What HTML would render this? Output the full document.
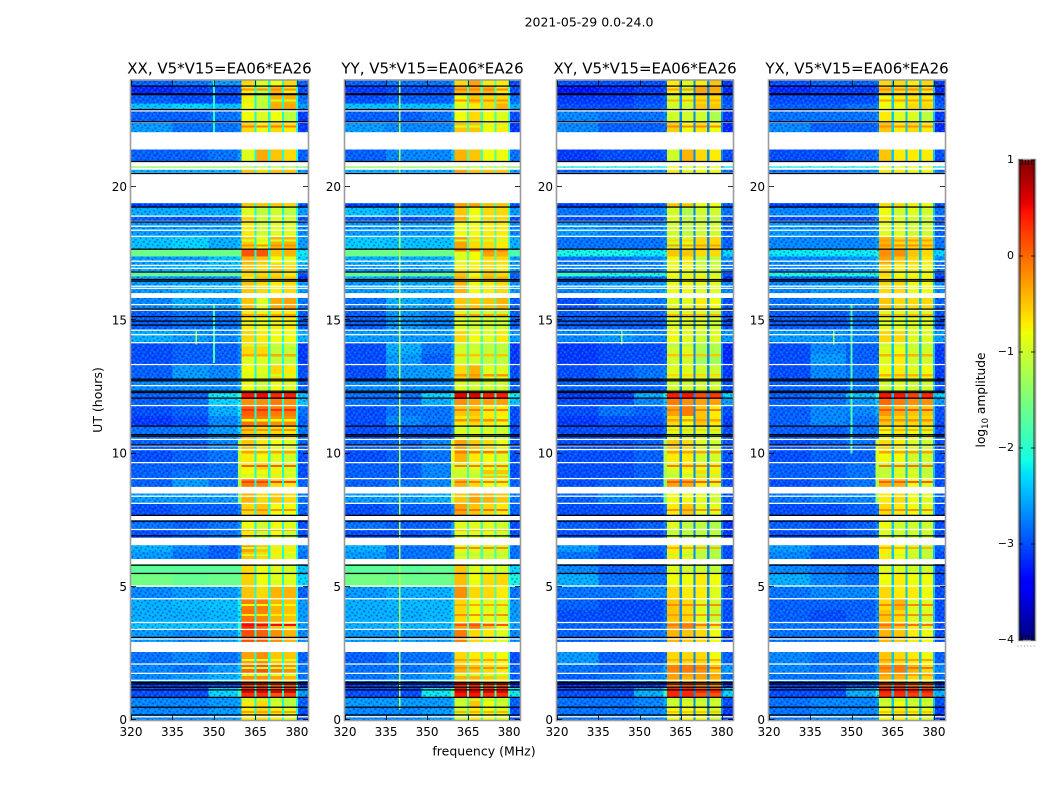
<!DOCTYPE html>
<html lang="en">
<head>
<meta charset="utf-8">
<title>2021-05-29 amplitude waterfall</title>
<style>
html,body{margin:0;padding:0;background:#fff;}
svg{display:block;font-family:"DejaVu Sans","Liberation Sans",sans-serif;fill:#000;}
</style>
</head>
<body>
<svg id="figure" xmlns="http://www.w3.org/2000/svg" width="1050" height="800" viewBox="0 0 1050 800">
<defs>
<pattern id="speckle" patternUnits="userSpaceOnUse" width="30" height="30" patternTransform="scale(.72)">
<path fill="none" stroke="#0000d0" stroke-opacity=".5" stroke-width="2" d="M1 1h2M7 3h3M14 1h2M22 2h2M27 5h2M4 6h3M11 7h2M18 6h3M24 9h3M1 10h2M8 11h3M15 11h2M21 13h2M5 15h2M12 15h3M27 15h2M1 17h3M18 18h3M24 19h2M8 20h2M14 21h2M3 23h2M20 24h3M27 24h2M10 25h3M16 27h2M5 28h2M24 28h3"/>
<path fill="none" stroke="#20c8ff" stroke-opacity=".38" stroke-width="2" d="M4 2h2M11 3h2M18 1h3M25 2h2M0 6h2M8 7h2M15 5h2M22 6h2M3 9h3M12 10h2M19 9h2M28 10h2M6 12h2M17 14h3M24 14h2M1 14h2M9 16h2M14 18h2M21 17h2M28 19h2M4 20h3M11 22h2M18 22h2M25 23h2M1 26h2M7 25h2M14 25h2M21 27h2M28 27h2M10 28h2"/>
</pattern>
</defs>
<text x="589" y="26.5" font-size="12.5" text-anchor="middle">2021-05-29 0.0-24.0</text>
<text x="484" y="755.5" font-size="12.5" text-anchor="middle">frequency (MHz)</text>
<text transform="translate(102 400) rotate(-90)" font-size="12.5" text-anchor="middle">UT (hours)</text>
<text transform="translate(985 400) rotate(-90)" font-size="12.2" text-anchor="middle">log<tspan font-size="8.5" dy="3">10</tspan><tspan dy="-3"> amplitude</tspan></text>
<g id="panels"></g>
<g id="colorbar"></g>
</svg>
<script>
// Channel bands in MHz: [from, to]; each value column in the amplitude tables maps to one band.
const freqBands = [[320,335],[335,348],[348,358.7],[358.7,360],[360,364.6],[365.4,369.6],[370.4,374.6],[375.4,379.6],[380.4,384]];
const notchBands = [[364.6,365.4],[369.6,370.4],[374.6,375.4],[379.6,380.4]];
// Top edge (UT hours) of each time block; the last block ends at 0.
const rowTopHours = [24,23.78,23.48,23.14,22.91,22.46,21.41,20.96,20.73,19.39,19.24,18.9,18.68,18.15,17.66,17.4,17.14,16.8,16.65,16.43,15.83,15.38,14.63,14.18,13.73,13.31,12.75,12.3,12.04,11.81,11.4,11.03,10.5,10.13,9.68,9.38,9.08,8.51,8.1,7.5,7.16,6.56,6.3,5.85,5.48,4.99,4.54,4.13,3.68,3.38,2.55,2.06,1.73,1.43,1.2,.86,.45];
// Time ranges with no data (white), single flagged integrations (white / black).
const gapHours = [[22.06,21.41],[20.94,20.78],[20.73,20.65],[20.54,19.4],[16.02,15.84],[8.75,8.5],[7.69,7.5],[6.84,6.56],[6.04,5.85],[2.93,2.55]];
const whiteLineHours = [22.86,22.43,18.91,18.71,18.53,18.38,18.15,17.22,17.06,16.95,16.8,16.28,16.2,15.59,15.38,14.63,14.46,14.16,13.34,12.55,11.8,10.53,10.29,10.15,9.66,9.06,8.4,8.13,7.15,5.03,4.55,3.66,3.4,3.04,2.1,1.75,1.49,.12];
const blackLineHours = [23.79,23.5,23.47,22.91,22.45,20.96,20.51,19.25,18.69,17.67,16.81,16.53,16.47,15.42,15.14,14.97,14.82,12.79,12.73,12.34,12.29,12.08,11.03,10.71,10.65,10.32,7.68,7.46,6.91,5.81,5.5,3.1,1.41,1.35,1.23,1.13,.85,.48,.19];

const ampXX = [
[-2.9,-2.8,-2.6,-2.6,-.6,-.9,-.8,-.6,-2.9],[-3.2,-3.1,-3,-2.9,-.7,-1.1,-.4,-.7,-3],[-2.9,-3,-3,-2.9,-.7,-1.1,-.4,-.4,-2.8],[-2.4,-2.3,-2.4,-2.4,-.8,-1.1,-.35,-.35,-2.6],[-2.9,-2.9,-2.8,-2.7,-.8,-.9,-.8,-1.1,-3.1],[-2.6,-2.8,-2.8,-2.7,-.6,-.8,-.6,-.7,-3.1],[-2.9,-2.9,-2.8,-2.6,-.9,-.35,-.5,-.6,-2.9],
[-1.2,-1.2,-1.2,-1.2,-1.2,-1.2,-1.2,-1.2,-1.2],[-2.5,-2.5,-2.5,-2.4,-.5,-.6,-.5,-.5,-2.6],
[-3.1,-3.1,-3,-2.9,-.5,-.5,-.5,-.6,-3],[-2.5,-2.5,-2.5,-2.4,-.9,-1.1,-1,-1.1,-2.6],[-2.9,-3,-2.9,-2.7,-.6,-1,-.9,-1,-3],[-2.6,-2.6,-2.6,-2.5,-.7,-1,-.9,-.9,-2.7],[-2.4,-2.3,-2.5,-2.4,-.55,-.8,-.4,-.4,-2.6],
[-1.6,-1.6,-1.6,-1.6,.1,.1,-.5,-.4,-2.2],[-2.6,-2.6,-2.4,-2.3,-.4,-.5,-.8,-.9,-2.3],[-2.5,-2.4,-2.4,-2.3,-.5,-.6,-.5,-.6,-2.6],[-1.7,-1.7,-1.7,-1.7,-.6,-.6,-.6,-.7,-3],[-2.6,-2.7,-2.7,-2.6,-.7,-.5,-.5,-.5,-3.2],[-2.6,-2.5,-2.5,-2.4,-.5,-.6,-.7,-.6,-2.6],
[-2.7,-2.5,-2.6,-2.3,-.5,-.9,-.35,-.3,-2.8],[-2.9,-2.8,-2.8,-2.7,-.7,-.8,-.7,-.7,-2.9],[-2.5,-2.6,-2.7,-2.4,-.6,-.7,-.8,-.8,-2.5],[-3,-2.9,-2.9,-2.7,-.6,-.6,-1.1,-1.1,-3.1],[-3,-2.9,-2.9,-2.7,-.9,-.9,-1.1,-1.1,-3.1],[-2.9,-2.6,-2.7,-2.5,-.8,-.9,-.6,-.7,-3],
[-2.7,-2.7,-2.7,-2.5,-.8,-1,-.8,-.9,-2.9],[-2.9,-2.9,-2.2,-1.9,.45,.5,.35,.4,-2.4],[-2.9,-2.8,-2.3,-2.1,-.2,-.2,-.1,-.2,-2.4],[-3,-2.9,-2.5,-2.2,.05,0,-.1,-.1,-2.8],[-3.1,-3,-2.7,-2.4,-.05,-.1,-.2,-.2,-2.9],[-2.8,-2.8,-2.6,-2.3,-.5,-.6,-.6,-.7,-2.8],
[-2.9,-2.9,-2.7,-1.2,-.5,-.7,-.8,-.9,-2.9],[-3,-2.9,-2.8,-1.1,-.7,-.8,-.9,-1,-3],[-2.9,-2.9,-2.8,-1.1,-.75,-.6,-.9,-1,-3],[-2.9,-2.8,-2.8,-1.1,-.8,-.8,-.7,-.9,-3],[-2.9,-2.6,-2.8,-1.2,-.1,-.15,-.6,-.7,-2.9],[-2.6,-2.6,-2.6,-1.4,-.4,-.6,-.5,-.6,-2.8],[-3,-2.9,-2.9,-2.7,-.6,-.5,-.8,-.8,-2.9],
[-2.8,-2.9,-2.8,-2.6,-.8,-1,-.8,-.9,-3],[-3,-2.9,-2.8,-2.6,-.7,-1,-.8,-1,-3],[-2.5,-2.7,-2.9,-2.7,-.3,-.5,-.7,-.7,-2.7],[-2.6,-2.8,-2.9,-2.6,-.5,-.6,-.7,-.9,-2.8],[-1.7,-1.7,-1.7,-1.7,-.6,-.8,-.9,-1,-2.4],[-1.55,-1.65,-1.6,-1.6,-.55,-.8,-.9,-.9,-2.3],
[-2.7,-2.6,-2.6,-2.4,-.5,-.6,-.4,-.4,-2.9],[-2.5,-2.45,-2.4,-2.1,-.1,-.1,-.4,-.5,-2.6],[-2.5,-2.5,-2.45,-2.2,-.05,-.15,-.4,-.5,-2.6],[-2.4,-2.4,-2.4,-2,.35,0,-.5,-.6,-2.6],[-2.6,-2.7,-2.6,-2.2,.15,.05,-.2,-.4,-2.7],[-2.8,-2.7,-2.8,-2.6,-.3,-.2,-.5,-.5,-2.9],
[-2.7,-2.8,-2.6,-2.4,0,.1,-.1,-.2,-2.8],[-2.7,-2.6,-2.5,-2.3,-.2,-.2,-.3,-.4,-2.8],[-3.1,-3.1,-3,-2.9,.2,.2,.1,.1,-3.1],[-3,-3,-2.3,-1.9,.3,.3,.1,.2,-2.6],[-2.7,-2.7,-2.6,-2.5,-.7,-.6,-1,-1.1,-2.9],[-2.7,-2.7,-2.6,-2.5,-.7,-.6,-.7,-.9,-3]
];
const ampYY = [
[-2.9,-2.8,-2.8,-2.6,-.6,-.3,-.7,-.7,-3],[-3.1,-3,-3,-2.9,-.4,-.4,-.4,-.7,-3],[-3,-2.9,-2.9,-2.8,-.8,-.5,-.6,-.6,-2.8],[-2.4,-2.4,-2.4,-2.3,-.9,-.7,-.6,-.4,-2.5],[-2.9,-2.9,-2.8,-2.6,-.8,-.6,-.8,-.9,-3],[-2.6,-2.7,-2.7,-2.6,-.5,-.5,-.8,-.7,-3.1],[-2.9,-2.7,-2.7,-2.4,-.4,-.5,-.8,-.8,-2.8],
[-1.2,-1.2,-1.2,-1.2,-1.2,-1.2,-1.2,-1.2,-1.2],[-2.5,-2.5,-2.5,-2.4,-.3,-.5,-.5,-.5,-2.6],
[-3.1,-3,-3,-2.8,-.3,-.3,-.5,-.5,-3],[-2.4,-2.5,-2.5,-2.4,-.5,-.8,-.6,-.6,-2.6],[-2.9,-3,-2.9,-2.8,-.4,-.8,-.6,-.6,-3],[-2.6,-2.6,-2.6,-2.4,-.8,-.8,-.7,-.7,-2.7],[-2.35,-2.4,-2.4,-2.3,-.3,-.6,-.6,-.7,-2.5],
[-1.6,-1.6,-1.6,-1.6,-.9,-.8,-.3,-.4,-1.8],[-2.5,-2.5,-2.5,-2.3,-.9,-.8,-.6,-.6,-2.6],[-2.6,-2.6,-2.5,-2.4,-.7,-.7,-.6,-.7,-2.6],[-1.7,-1.7,-1.7,-1.7,-.5,-.8,-.5,-.6,-2.9],[-2.5,-2.6,-2.6,-2.5,-.4,-.6,-.4,-.4,-2.9],[-2.6,-2.5,-2.5,-2.4,-.4,-.8,-.7,-.6,-2.6],
[-2.8,-2.5,-2.6,-2.4,-.5,-.5,-.5,-.4,-2.9],[-2.9,-2.6,-2.7,-2.6,-.9,-1,-1,-1,-2.9],[-2.6,-2.6,-2.6,-2.5,-.6,-.8,-.9,-.7,-2.6],[-3,-2.5,-2.8,-2.6,-1,-1,-1.1,-1.1,-3.1],[-3,-2.6,-2.9,-2.6,-1,-1,-1.1,-1.1,-3.1],[-3,-2.6,-2.6,-2.4,-.6,-.4,-.9,-.9,-3],
[-2.7,-2.7,-2.7,-2.6,-.9,-1,-1,-1,-2.9],[-2.8,-2.8,-2.3,-2,.55,.6,.4,.4,-2.2],[-2.8,-2.8,-2.5,-2.2,-.2,-.3,-.3,-.3,-2.4],[-3,-2.8,-2.8,-2.6,-.5,-.5,-.7,-.7,-3],[-3,-2.7,-2.8,-2.6,-.7,-.6,-.7,-.8,-3],[-3,-2.9,-2.9,-2.7,-.9,-.9,-.9,-1,-3],
[-2.9,-2.9,-2.7,-.9,-.3,-.5,-.6,-.8,-3],[-3,-2.9,-2.8,-.8,-.4,-.7,-.8,-.9,-3],[-2.9,-2.9,-2.7,-1,-1,-.9,-.8,-.9,-3],[-2.9,-2.9,-2.7,-1,-1,-1,-.5,-.5,-3],[-2.9,-2.8,-2.7,-1.1,-.4,-.6,-.8,-.8,-2.9],[-2.6,-2.6,-2.5,-1.1,-.5,-.3,-.4,-.5,-2.8],[-3,-2.9,-2.9,-2.7,-.3,-.5,-.6,-.7,-2.9],
[-2.8,-2.9,-2.9,-2.6,-.9,-.9,-.9,-1,-3],[-3,-3,-2.9,-2.6,-.9,-.9,-.9,-1,-3],[-2.5,-2.8,-2.8,-2.7,-.9,-.9,-1,-1,-2.8],[-2.6,-2.8,-2.8,-2.6,-.9,-1,-1,-1,-2.8],[-1.7,-1.7,-1.65,-1.7,-.5,-.9,-.9,-1,-2.3],[-1.55,-1.6,-1.6,-1.6,-.45,-.8,-.6,-.6,-2.1],
[-2.6,-2.5,-2.5,-2.3,-.2,-.6,-.6,-.7,-2.8],[-2.5,-2.45,-2.45,-2.3,-.6,-.8,-.9,-.9,-2.6],[-2.5,-2.5,-2.45,-2.3,-.6,-.8,-.9,-.9,-2.6],[-2.5,-2.45,-2.45,-2.2,-.3,-.1,-.5,-.8,-2.6],[-2.6,-2.6,-2.6,-2.4,-.1,-.6,-.7,-.9,-2.7],[-2.9,-2.8,-2.8,-2.6,-.6,-.7,-.7,-.8,-3],
[-2.8,-2.8,-2.7,-2.5,-.4,-.5,-.6,-.7,-2.9],[-2.8,-2.7,-2.6,-2.4,-.4,-.4,-.5,-.6,-2.9],[-3.1,-3,-3,-2.9,.35,.35,.2,.2,-3.1],[-3,-3,-2.2,-1.7,.45,.45,.3,.3,-2.2],[-2.6,-2.6,-2.6,-2.5,-1,-.5,-.8,-1,-2.9],[-2.7,-2.7,-2.6,-2.5,-1,-.7,-.8,-.9,-3]
];
const ampXY = [
[-3,-3,-3,-2.9,-.7,-.9,-.7,-.5,-3.1],[-3.3,-3.2,-3.1,-3,-.7,-1,-.3,-.4,-3.2],[-3.1,-3.1,-3,-2.9,-1,-.9,-.6,-.6,-3],[-3,-3,-2.9,-2.8,-1,-1,-.5,-.5,-2.9],[-2.7,-2.8,-2.8,-2.7,-1,-1,-1,-1.2,-3.1],[-2.7,-2.9,-2.9,-2.8,-.55,-.8,-.65,-.8,-3.2],[-3.1,-3,-3,-2.9,-1,-.4,-.6,-.7,-3],
[-2.1,-2.1,-2.1,-2.1,-.9,-.9,-.9,-.9,-2.1],[-2.9,-2.8,-2.7,-2.6,-.7,-.9,-.8,-.8,-2.8],
[-3.1,-3.1,-3,-2.9,-.5,-.5,-.8,-.8,-3],[-2.8,-2.8,-2.7,-2.6,-1,-1.2,-1,-1,-2.8],[-3,-3,-3,-2.8,-.9,-1.1,-1,-1.1,-3],[-2.6,-2.7,-2.7,-2.6,-1,-1.1,-1,-1,-2.9],[-2.8,-2.8,-2.8,-2.7,-1,-.9,-.6,-.6,-2.9],
[-2.1,-2.1,-2.2,-2.1,-.5,-.5,-.6,-.6,-2.3],[-2.8,-2.8,-2.7,-2.5,-.8,-.7,-1.1,-1.1,-2.7],[-2.7,-2.7,-2.7,-2.6,-.8,-.8,-1,-1,-2.8],[-2,-2.1,-2.1,-2.1,-.8,-.9,-.9,-1,-3],[-2.9,-2.9,-2.9,-2.8,-.9,-.8,-.7,-.8,-3.2],[-2.7,-2.6,-2.6,-2.5,-.8,-.8,-.9,-.9,-2.7],
[-3,-2.8,-2.8,-2.7,-.9,-.9,-.7,-.8,-3],[-2.9,-2.9,-2.9,-2.8,-.9,-.9,-.9,-1,-3],[-2.7,-2.6,-2.7,-2.7,-.8,-.9,-1,-.9,-2.6],[-3.1,-3,-3,-2.9,-1,-.9,-1.2,-1.2,-3.2],[-3.1,-3,-3,-2.9,-1,-1,-1.3,-1.3,-3.2],[-3,-2.9,-2.8,-2.7,-.9,-.9,-1,-1,-3.1],
[-2.9,-2.9,-2.9,-2.8,-1,-1,-1,-1,-3],[-3.1,-3.1,-2.5,-2.1,.4,.45,.15,.25,-2.3],[-3,-3,-2.7,-2.4,-.1,-.2,-.3,-.3,-2.6],[-3,-2.8,-2.9,-2.7,-.3,-.1,-.5,-.7,-3],[-3.1,-3,-3,-2.8,-.6,-.8,-.5,-.7,-3.1],[-3,-3,-3,-2.8,-.9,-1,-.9,-1,-3],
[-3,-3,-2.9,-1.3,-.5,-.6,-.9,-1,-3],[-3,-3,-2.9,-1.2,-.7,-.7,-1,-1,-3],[-3,-3,-2.9,-1.2,-.9,-.7,-.9,-.9,-3.1],[-3,-3,-2.9,-1.3,-1,-.8,-.6,-.7,-3],[-3,-2.9,-2.9,-1.4,-.3,-.35,-.7,-.9,-3],[-2.9,-2.7,-2.8,-1.5,-.8,-.8,-.9,-1,-3],[-3,-3,-3,-2.8,-.7,-.5,-.9,-.9,-3],
[-2.9,-3,-2.9,-2.7,-.9,-1.1,-1.1,-1.2,-3.1],[-3,-3,-3,-2.8,-1,-1.1,-1.1,-1.1,-3.1],[-2.6,-2.9,-2.9,-2.8,-.7,-.9,-1.1,-1.2,-3],[-2.8,-2.9,-3,-2.8,-.7,-.9,-1.1,-1.2,-3],[-2.7,-2.9,-2.9,-2.8,-.9,-1,-1,-1.1,-3],[-2.5,-2.8,-2.8,-2.8,-.8,-.8,-.7,-.8,-3],
[-2.8,-2.8,-2.7,-2.7,-.6,-.7,-.7,-.9,-3],[-2.9,-3,-3,-2.8,-.5,-.6,-.9,-1,-3],[-3,-3,-3,-2.8,-.5,-.6,-.9,-1.1,-3],[-2.9,-2.9,-2.9,-2.7,-.3,-.15,-.6,-.9,-3],[-2.9,-2.9,-2.8,-2.7,-.4,-.5,-.6,-.8,-3],[-2.6,-2.9,-2.9,-2.8,-.6,-.6,-.6,-.8,-2.9],
[-2.8,-2.9,-2.8,-2.5,-.15,-.1,-.2,-.5,-2.6],[-2.9,-2.8,-2.7,-2.6,-.3,-.4,-.3,-.4,-2.8],[-3.2,-3.1,-3.1,-3,-.05,.1,-.1,-.2,-3.1],[-3,-3,-2.5,-2,.35,.35,.1,.1,-2.3],[-2.8,-2.8,-2.7,-2.5,-1,-.9,-1,-1,-3],[-2.8,-2.8,-2.7,-2.6,-.8,-.8,-.8,-1,-3.1]
];
const ampYX = [
[-3,-2.9,-2.9,-2.8,-.6,-.6,-.7,-.6,-3.1],[-3.2,-3.1,-3.1,-3,-.5,-.6,-.6,-.7,-3.2],[-3,-3,-3,-2.9,-.8,-.7,-.7,-.7,-3],[-2.9,-2.9,-2.8,-2.7,-.8,-.8,-.6,-.6,-2.9],[-2.8,-2.8,-2.8,-2.7,-.7,-.9,-.9,-1.1,-3.1],[-2.7,-2.9,-2.9,-2.8,-.5,-.7,-.6,-.7,-3.2],[-3,-3,-2.9,-2.8,-.5,-.7,-.7,-.7,-3],
[-2.1,-2.1,-2.1,-2.1,-.9,-.9,-.9,-.9,-2.1],[-2.8,-2.8,-2.7,-2.6,-.7,-.7,-.8,-.8,-2.8],
[-3.1,-3.1,-3,-2.9,-.6,-.6,-.7,-.8,-3],[-2.7,-2.7,-2.7,-2.6,-.8,-1,-.9,-1,-2.8],[-3,-3,-3,-2.8,-.7,-.9,-1,-1,-3],[-2.6,-2.7,-2.7,-2.6,-.9,-.9,-1,-1,-2.9],[-2.7,-2.7,-2.7,-2.6,-.4,-.6,-.6,-.6,-2.8],
[-2.2,-2.2,-2.2,-2.1,-.2,-.2,-.5,-.6,-2.3],[-2.7,-2.7,-2.6,-2.4,-.3,-.5,-.6,-.7,-2.7],[-2.7,-2.7,-2.6,-2.5,-.6,-.7,-.7,-.8,-2.8],[-2.1,-2.1,-2.1,-2.1,-.6,-.8,-.8,-.8,-3],[-2.9,-2.9,-2.9,-2.8,-.7,-.7,-.7,-.8,-3.2],[-2.7,-2.6,-2.6,-2.5,-.6,-.6,-.8,-.8,-2.7],
[-2.8,-2.7,-2.7,-2.7,-.5,-.6,-.6,-.6,-2.9],[-2.9,-2.9,-2.8,-2.8,-.9,-.9,-.9,-.9,-3],[-2.6,-2.6,-2.7,-2.7,-.6,-.6,-.9,-.9,-2.6],[-3,-2.7,-2.9,-2.9,-.9,-.8,-1,-1,-3.1],[-3,-2.6,-2.9,-2.9,-.9,-.7,-1,-1,-3.1],[-3,-2.7,-2.8,-2.7,-.8,-.7,-.9,-.8,-3.1],
[-2.9,-2.9,-2.8,-2.8,-1,-.9,-1,-1,-3],[-2.9,-2.8,-2.4,-2,.45,.45,.2,.35,-2.3],[-2.9,-2.8,-2.6,-2.3,0,-.1,-.2,-.2,-2.6],[-2.9,-2.7,-2.7,-2.5,-.25,-.4,-.5,-.5,-3],[-2.9,-2.7,-2.8,-2.7,-.5,-.6,-.6,-.6,-3],[-2.9,-2.9,-2.8,-2.7,-.8,-.7,-.8,-.9,-3],
[-3,-2.9,-2.8,-1,-.6,-.7,-.9,-1,-3],[-3,-2.9,-2.9,-.9,-.8,-.8,-1,-1,-3],[-2.9,-2.9,-2.8,-1.1,-1.1,-1,-1.1,-1.1,-3],[-2.9,-2.9,-2.8,-1.1,-1.1,-.9,-.9,-1.1,-3],[-3,-2.9,-2.8,-1.2,-.4,-.4,-.8,-.9,-3],[-2.8,-2.7,-2.7,-1.3,-.7,-.6,-.8,-.9,-2.9],[-3,-3,-2.9,-2.8,-.6,-.7,-.8,-.9,-3],
[-2.9,-3,-2.9,-2.7,-.8,-1,-1,-1,-3],[-3,-3,-2.9,-2.7,-.9,-1,-1,-1,-3],[-2.6,-2.8,-2.9,-2.8,-.7,-.8,-1,-1.1,-2.9],[-2.7,-2.9,-2.9,-2.8,-.7,-.8,-1,-1.1,-3],[-2.7,-2.8,-2.9,-2.8,-.9,-.9,-1,-1,-3],[-2.5,-2.7,-2.8,-2.8,-.8,-.7,-.8,-.8,-3],
[-2.8,-2.7,-2.7,-2.6,-.6,-.7,-.7,-.8,-3],[-2.9,-2.9,-2.9,-2.7,-.6,-.4,-.9,-.9,-3],[-2.9,-3,-2.9,-2.7,-.5,-.6,-.9,-1,-3],[-2.8,-2.8,-2.8,-2.7,-.3,-.5,-.7,-.9,-3],[-2.8,-2.8,-2.8,-2.6,-.4,-.5,-.7,-.8,-3],[-2.7,-2.8,-2.8,-2.7,-.5,-.6,-.7,-.8,-2.9],
[-2.7,-2.8,-2.8,-2.5,-.2,-.1,-.4,-.6,-2.7],[-2.8,-2.8,-2.7,-2.6,-.4,-.4,-.6,-.6,-2.8],[-3.1,-3.1,-3,-3,.1,.2,0,0,-3.1],[-3,-3,-2.5,-2.1,.3,.3,.2,.2,-2.5],[-2.8,-2.7,-2.7,-2.6,-1,-.8,-1,-1,-3],[-2.8,-2.7,-2.7,-2.6,-.8,-.7,-.8,-.9,-3.1]
];
// Notch level between the bright bands, one per polarisation.
const notchXX = -2.1, notchYY = -1.8, notchXY = -2.7, notchYX = -2.4;
// Thin bright / dim stripes across the four signal bands: [hour, level]
const stripesXX = [[23.66,-.2],[23.25,-1],[22.28,-.1],[18,-.95],[17.81,-.2],[15.19,-.3],[14.93,-1],[14.06,-1],[13.69,-.35],[12.94,-.95],[11.63,.3],[11.25,-.8],[10.88,-.2],[10.05,-.3],[9.53,.05],[9.19,-1],[8.93,.2],[7.88,-.2],[7.13,-.3],[6.45,-1],[6.19,-1],[4.31,-.8],[3.94,-.7],[3.56,.5],[2.25,-.9],[1.95,-1],[1.69,-.9],[1.05,.6],[.75,-1.1],[.3,-.3]];
const stripesYY = [[23.66,-.15],[23.25,-.2],[22.28,-.9],[18,-1],[17.63,-.1],[15.19,-.3],[14.93,-1],[14.06,-1.1],[13.69,-.5],[12.94,-.25],[11.63,-.1],[11.25,-.2],[10.88,-1],[10.05,-.1],[9.53,-.1],[9.19,-1.1],[8.93,-.1],[7.88,-.05],[7.13,-.4],[6.45,-.2],[6.19,-1.1],[4.31,-.35],[3.94,-.2],[3.56,.1],[2.25,-.3],[1.95,-.2],[1.69,-1],[1.05,.6],[.75,-1.1],[.3,-.4]];
const stripesXY = [[23.66,-.3],[23.25,-.4],[22.28,-.15],[18,-.6],[17.81,-.3],[15.19,-.4],[14.93,-1.1],[14.06,-1.2],[13.69,-.5],[12.94,-.6],[11.63,-.1],[11.25,-.3],[10.88,-.6],[10.05,-.3],[9.53,-.1],[9.19,-1.1],[8.93,.05],[7.88,-.2],[7.13,-1.2],[6.45,-.4],[6.19,-1.1],[4.31,-.2],[3.94,-.3],[3.56,-.1],[2.25,-.4],[1.95,-.1],[1.69,-.3],[1.05,.35],[.75,-1.1],[.3,-.5]];
const stripesYX = [[23.66,-.2],[23.25,-.3],[22.28,-.2],[18,-.3],[17.81,-.2],[15.19,-.4],[14.93,-1],[14.06,-1.1],[13.69,-.4],[12.94,-.4],[11.63,.1],[11.25,-.2],[10.88,-.4],[10.05,-.3],[9.53,-.05],[9.19,-1],[8.93,.05],[7.88,-.2],[7.13,-1],[6.45,-.4],[6.19,-1],[4.31,-.15],[3.94,-.2],[3.56,-.05],[2.25,-.3],[1.95,-.05],[1.69,-.3],[1.05,.4],[.75,-1.1],[.3,-.5]];
// Narrow RFI lines: [MHz, hour from, hour to, level]
const rfiXX = [[350,13.4,15.6,-1.8],[343.6,14.1,14.6,-1.1],[350,22,24,-2]];
const rfiYY = [[340,0.4,24,-1.1]];
const rfiXY = [[343.6,14.1,14.6,-1.4],[343.6,21.4,21.9,-1.4]];
const rfiYX = [[350,10,15.6,-1.8],[343.6,14.1,14.6,-1.3]];
const polarisations = ['XX','YY','XY','YX'];
const panelTitles = ['XX, V5*V15=EA06*EA26','YY, V5*V15=EA06*EA26','XY, V5*V15=EA06*EA26','YX, V5*V15=EA06*EA26'];
const freqTicks = [320,335,350,365,380];
const hourTicks = [0,5,10,15,20];
const colorbarTicks = [1,0,-1,-2,-3,-4];

const panelFrames = [{l:131,r:308},{l:345,r:520},{l:557,r:733},{l:769,r:945}];
const plotTop = 80.5, plotBottom = 720, freqMin = 320, freqMax = 384, hourMax = 24;
const ampMin = -4, ampMax = 1;
const NS = 'http://www.w3.org/2000/svg';

function mk(tag, attrs, parent){
  const el = document.createElementNS(NS, tag);
  for (const k in attrs) el.setAttribute(k, attrs[k]);
  parent.appendChild(el);
  return el;
}
function xScale(frame, mhz){ return frame.l + (mhz - freqMin) / (freqMax - freqMin) * (frame.r - frame.l); }
function yScale(hour){ return plotBottom - hour / hourMax * (plotBottom - plotTop); }
function lerp(pts, t){
  for (let i = 1; i < pts.length; i++){
    if (t <= pts[i][0]){
      const a = pts[i-1], b = pts[i];
      return a[1] + (b[1]-a[1]) * (t-a[0]) / (b[0]-a[0]);
    }
  }
  return pts[pts.length-1][1];
}
function jet(value){
  const t = Math.max(0, Math.min(1, (value - ampMin) / (ampMax - ampMin)));
  const r = lerp([[0,0],[.35,0],[.66,1],[.89,1],[1,.5]], t);
  const g = lerp([[0,0],[.125,0],[.375,1],[.64,1],[.91,0],[1,0]], t);
  const b = lerp([[0,.5],[.11,1],[.34,1],[.65,0],[1,0]], t);
  return 'rgb(' + Math.round(r*255) + ',' + Math.round(g*255) + ',' + Math.round(b*255) + ')';
}
function drawCell(g, frame, band, topHour, bottomHour, value, textured){
  const x0 = xScale(frame, band[0]), x1 = xScale(frame, band[1]);
  const y0 = yScale(topHour), y1 = yScale(bottomHour);
  const cell = mk('rect', {x:x0, y:y0, width:x1-x0, height:y1-y0, fill:jet(value), 'shape-rendering':'crispEdges'}, g);
  
  
  if (textured){
    const tex = mk('rect', {x:x0, y:y0, width:x1-x0, height:y1-y0, fill:'url(#speckle)'}, g);
    
    
  }
}
function drawHBand(g, frame, topHour, bottomHour, color){
  const y0 = yScale(topHour), y1 = yScale(bottomHour);
  const band = mk('rect', {x:frame.l, y:y0, width:frame.r-frame.l, height:y1-y0, fill:color}, g);
  
  
}
const lineHalfHours = 0.024, stripeHalfHours = 0.04;
const matrices = {XX:ampXX, YY:ampYY, XY:ampXY, YX:ampYX};
const notches = {XX:notchXX, YY:notchYY, XY:notchXY, YX:notchYX};
const stripes = {XX:stripesXX, YY:stripesYY, XY:stripesXY, YX:stripesYX};
const rfis = {XX:rfiXX, YY:rfiYY, XY:rfiXY, YX:rfiYX};
const root = document.getElementById('panels');

polarisations.forEach(function(pol, p){
  const frame = panelFrames[p];
  const g = mk('g', {}, root);
  
  
  const matrix = matrices[pol];
  rowTopHours.forEach(function(top, r){
    const bottom = r + 1 < rowTopHours.length ? rowTopHours[r+1] : 0;
    matrix[r].forEach(function(v, c){
      drawCell(g, frame, freqBands[c], top, bottom, v, (c < 4 || c === 8) && v <= -2.05);
    });
    notchBands.forEach(function(band){
      drawCell(g, frame, band, top, bottom, notches[pol], false);
    });
  });
  stripes[pol].forEach(function(st){
    [4,5,6,7].forEach(function(c){
      drawCell(g, frame, freqBands[c], st[0] + stripeHalfHours, st[0] - stripeHalfHours, st[1], false);
    });
  });
  rfis[pol].forEach(function(rf){
    drawCell(g, frame, [rf[0]-0.3, rf[0]+0.3], rf[2], rf[1], rf[3], false);
  });
  gapHours.forEach(function(gap){ drawHBand(g, frame, gap[0], gap[1], '#fff'); });
  whiteLineHours.forEach(function(h){ drawHBand(g, frame, h + lineHalfHours, h - lineHalfHours, '#fff'); });
  blackLineHours.forEach(function(h){ drawHBand(g, frame, h + lineHalfHours, h - lineHalfHours, '#000'); });

  const border = mk('rect', {x:frame.l-0.5, y:plotTop-0.5, width:frame.r-frame.l+1, height:plotBottom-plotTop+1, fill:'none', stroke:'#9c9c9c', 'stroke-width':1.6}, g);
  
  

  freqTicks.forEach(function(f){
    const x = Math.round(xScale(frame, f)) + 0.5;
    const t1 = mk('line', {x1:x, x2:x, y1:plotBottom, y2:plotBottom-5, stroke:'#000', 'stroke-width':0.8}, g);
    
    
    const t2 = mk('line', {x1:x, x2:x, y1:plotTop, y2:plotTop+5, stroke:'#000', 'stroke-width':0.8}, g);
    
    
    const lab = mk('text', {x:xScale(frame, f), y:plotBottom+16, 'font-size':12, 'text-anchor':'middle'}, g);
    
    
    lab.textContent = f;
  });
  hourTicks.forEach(function(h){
    const y = Math.round(yScale(h)) - 0.5;
    const t1 = mk('line', {x1:frame.l, x2:frame.l+5, y1:y, y2:y, stroke:'#000', 'stroke-width':0.8}, g);
    
    
    const t2 = mk('line', {x1:frame.r, x2:frame.r-5, y1:y, y2:y, stroke:'#000', 'stroke-width':0.8}, g);
    
    
    const lab = mk('text', {x:frame.l-4, y:yScale(h)+4, 'font-size':12, 'text-anchor':'end'}, g);
    
    
    lab.textContent = h;
  });
  const title = mk('text', {x:(frame.l+frame.r)/2, y:73.5, 'font-size':15, 'text-anchor':'middle'}, g);
  
  
  title.textContent = panelTitles[p];
});

// Colorbar
const cb = document.getElementById('colorbar');
const cbL = 1019, cbR = 1035, cbT = 160, cbB = 640;
function cbY(v){ return cbB - (v - ampMin) / (ampMax - ampMin) * (cbB - cbT); }
for (let y = cbT; y < cbB; y += 2){
  const v = ampMax - (y + 1 - cbT) / (cbB - cbT) * (ampMax - ampMin);
  const s = mk('rect', {x:cbL, y:y, width:cbR-cbL, height:2, fill:jet(v), 'shape-rendering':'crispEdges'}, cb);
  
  
}
[cbL + 1, cbR - 1].forEach(function(x){
  const edge = mk('line', {x1:x, x2:x, y1:cbT, y2:cbB, stroke:'#000', 'stroke-width':1, 'stroke-opacity':.75}, cb);
  
  
});
const cbFrame = mk('rect', {x:cbL-0.5, y:cbT-0.5, width:cbR-cbL+1, height:cbB-cbT+1, fill:'none', stroke:'#9c9c9c', 'stroke-width':1.5}, cb);


colorbarTicks.forEach(function(v){
  const y = cbY(v);
  const t1 = mk('line', {x1:cbL, x2:cbL+4, y1:y, y2:y, stroke:'#000', 'stroke-width':0.8}, cb);
  
  
  const t2 = mk('line', {x1:cbR, x2:cbR-4, y1:y, y2:y, stroke:'#000', 'stroke-width':0.8}, cb);
  
  
  const lab = mk('text', {x:cbL-5, y:y+3, 'font-size':11, 'text-anchor':'end'}, cb);
  
  
  lab.textContent = v < 0 ? '\u2212' + Math.abs(v) : v;
});
[0.2,0.4,0.6,0.8].forEach(function(frac){
  const x = cbL + frac * (cbR - cbL);
  const a = mk('line', {x1:x, x2:x, y1:cbT, y2:cbT+5, stroke:'#000', 'stroke-width':0.8}, cb);
  
  
  const b = mk('line', {x1:x, x2:x, y1:cbB, y2:cbB-5, stroke:'#000', 'stroke-width':0.8}, cb);
  
  
});
[0,0.2,0.4,0.6,0.8,1].forEach(function(frac){
  const dot = mk('rect', {x:cbL - 1.5 + frac * (cbR - cbL), y:645.5, width:1, height:1, fill:'#888'}, cb);
  
  
});
</script>
</body>
</html>
